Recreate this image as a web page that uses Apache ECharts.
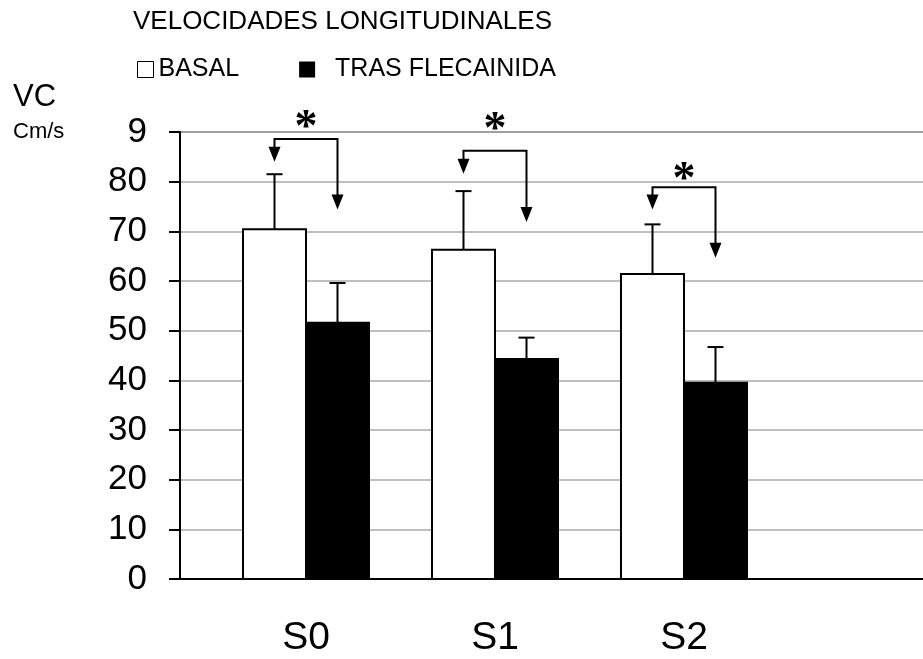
<!DOCTYPE html>
<html>
<head>
<meta charset="utf-8">
<script src="https://cdn.jsdelivr.net/npm/echarts@6/dist/echarts.min.js"></script>
<style>
html,body{margin:0;padding:0;background:#fff;}
#chart{width:923px;height:659px;}
</style>
</head>
<body>
<div id="chart"></div>
<script>
// ---- data ----
const categories = ['S0', 'S1', 'S2'];
const basal = [70.4, 66.3, 61.4];
const basalErr = [11.1, 11.8, 10.0];
const flec = [51.6, 44.3, 39.5];
const flecErr = [8.0, 4.3, 7.2];
const bracketLevel = [88.6, 86.2, 78.9];
const arrowBasalTip = [84.0, 81.6, 74.4];
const arrowFlecTip = [74.4, 71.9, 64.7];
const starLevel = [92.4, 92.0, 82.0];
const yTicks = [0, 10, 20, 30, 40, 50, 60, 70, 80, 90];
const yTickLabels = ['0', '10', '20', '30', '40', '50', '60', '70', '80', '9'];
const seriesNames = ['BASAL', 'TRAS FLECAINIDA'];

const FONT = '"Liberation Sans", Arial, sans-serif';
const BW = 1 / 3; // bar width in category units

function barRender(side, fill) {
  return function (params, api) {
    const i = api.value(0), v = api.value(1), e = api.value(2);
    const x0 = side === 0 ? i - BW : i;
    const x1 = x0 + BW;
    const tl = api.coord([x0, v]);
    const br = api.coord([x1, 0]);
    const xc = (tl[0] + br[0]) / 2;
    const top = api.coord([x0, v + e])[1];
    return {
      type: 'group',
      children: [
        { type: 'rect', shape: { x: tl[0], y: tl[1], width: br[0] - tl[0], height: br[1] - tl[1] },
          style: { fill: fill, stroke: '#000', lineWidth: 2 } },
        { type: 'line', shape: { x1: xc, y1: tl[1], x2: xc, y2: top },
          style: { stroke: '#000', lineWidth: 2 } },
        { type: 'line', shape: { x1: xc - 8, y1: top, x2: xc + 8, y2: top },
          style: { stroke: '#000', lineWidth: 2 } }
      ]
    };
  };
}

function annRender(params, api) {
  const i = api.value(0);
  const by = api.value(1), tb = api.value(2), tf = api.value(3), sy = api.value(4);
  const xl = api.coord([i - BW / 2, by]);
  const xr = api.coord([i + BW / 2, by]);
  const tbp = api.coord([i, tb])[1];
  const tfp = api.coord([i, tf])[1];
  const sp = api.coord([i, sy]);
  const hh = 15, hw = 6;
  return {
    type: 'group',
    children: [
      { type: 'polyline', shape: { points: [[xl[0], tbp - hh + 1], [xl[0], xl[1]], [xr[0], xr[1]], [xr[0], tfp - hh + 1]] },
        style: { stroke: '#000', lineWidth: 2, fill: null } },
      { type: 'polygon', shape: { points: [[xl[0] - hw, tbp - hh], [xl[0] + hw, tbp - hh], [xl[0], tbp]] },
        style: { fill: '#000' } },
      { type: 'polygon', shape: { points: [[xr[0] - hw, tfp - hh], [xr[0] + hw, tfp - hh], [xr[0], tfp]] },
        style: { fill: '#000' } },
      { type: 'text', x: sp[0], y: sp[1] + 9,
        style: { text: '*', font: 'bold 46px "Liberation Serif", serif', fill: '#000',
                 textAlign: 'center', textVerticalAlign: 'middle', align: 'center', verticalAlign: 'middle' } }
    ]
  };
}

const chart = echarts.init(document.getElementById('chart'), null, { renderer: 'canvas' });
chart.setOption({
  animation: false,
  backgroundColor: '#fff',
  title: [
    { text: 'VELOCIDADES LONGITUDINALES', left: 128, top: 4,
      textStyle: { fontFamily: FONT, fontSize: 26, fontWeight: 'normal', color: '#000' } },
    { text: 'VC', left: 8, top: 77,
      textStyle: { fontFamily: FONT, fontSize: 31, fontWeight: 'normal', color: '#000' } },
    { text: 'Cm/s', left: 8, top: 116,
      textStyle: { fontFamily: FONT, fontSize: 22, fontWeight: 'normal', color: '#000' } }
  ],
  legend: {
    left: 132, top: 52,
    itemWidth: 16, itemHeight: 16, itemGap: 60,
    selectedMode: false,
    textStyle: { fontFamily: FONT, fontSize: 25, color: '#000' },
    data: [
      { name: seriesNames[0], icon: 'rect', itemStyle: { color: '#fff', borderColor: '#000', borderWidth: 1 } },
      { name: seriesNames[1], icon: 'rect', itemStyle: { color: '#000', borderWidth: 0 },
        textStyle: { padding: [0, 0, 0, 15] } }
    ]
  },
  grid: { left: 180, right: 0, top: 132, bottom: 80, containLabel: false },
  xAxis: {
    type: 'value', min: -2 / 3, max: 3.2646,
    axisLine: { show: true, onZero: false, lineStyle: { color: '#000', width: 2 } },
    axisTick: { show: false },
    splitLine: { show: false },
    axisLabel: {
      customValues: [0, 1, 2],
      formatter: v => categories[Math.round(v)] || '',
      fontFamily: FONT, fontSize: 39, color: '#000', margin: 40
    }
  },
  yAxis: {
    type: 'value', min: 0, max: 90, interval: 10,
    axisLine: { show: true, onZero: false, lineStyle: { color: '#000', width: 2 } },
    axisTick: { show: true, inside: false, length: 11, lineStyle: { color: '#000', width: 2 } },
    splitLine: { show: true, lineStyle: { color: ['#aaa', '#aaa', '#aaa', '#aaa', '#aaa', '#aaa', '#aaa', '#aaa', '#aaa', '#808080'], width: 1.5 } },
    axisLabel: {
      formatter: v => yTickLabels[yTicks.indexOf(v)],
      fontFamily: FONT, fontSize: 35, color: '#000', margin: 33
    }
  },
  series: [
    { name: seriesNames[0], type: 'custom', silent: true,
      itemStyle: { color: '#fff', borderColor: '#000', borderWidth: 1 },
      renderItem: barRender(0, '#fff'),
      data: basal.map((v, i) => [i, v, basalErr[i]]) },
    { name: seriesNames[1], type: 'custom', silent: true,
      itemStyle: { color: '#000' },
      renderItem: barRender(1, '#000'),
      data: flec.map((v, i) => [i, v, flecErr[i]]) },
    { name: 'sig', type: 'custom', silent: true, z: 5,
      renderItem: annRender,
      encode: { x: 0, y: [1, 4] },
      data: categories.map((c, i) => [i, bracketLevel[i], arrowBasalTip[i], arrowFlecTip[i], starLevel[i]]) }
  ]
});
</script>
</body>
</html>
